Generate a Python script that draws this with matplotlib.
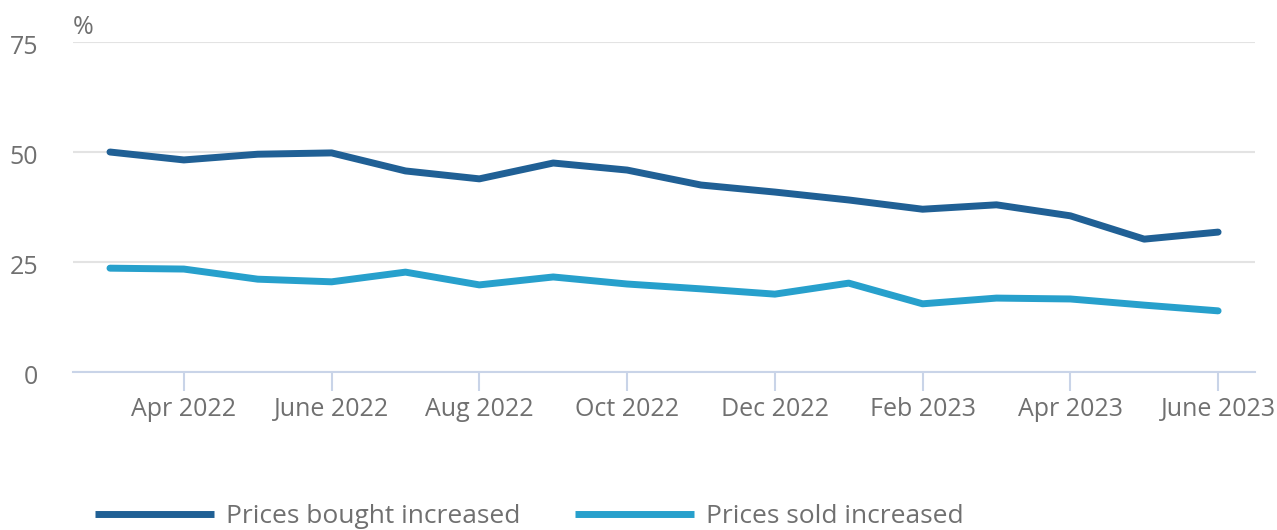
import matplotlib
matplotlib.use("Agg")
import matplotlib.pyplot as plt
from matplotlib.transforms import ScaledTranslation

plt.rcParams['font.family'] = ['Open Sans', 'DejaVu Sans']

# monthly survey, Mar 2022 - June 2023
months = ['Mar 2022', 'Apr 2022', 'May 2022', 'June 2022', 'Jul 2022', 'Aug 2022',
          'Sep 2022', 'Oct 2022', 'Nov 2022', 'Dec 2022', 'Jan 2023', 'Feb 2023',
          'Mar 2023', 'Apr 2023', 'May 2023', 'June 2023']
bought = [50.0, 48.2, 49.5, 49.8, 45.7, 43.9, 47.5, 45.9, 42.5, 40.9, 39.1, 37.0,
          38.0, 35.5, 30.2, 31.8]
sold = [23.6, 23.4, 21.1, 20.5, 22.7, 19.8, 21.6, 20.0, 18.9, 17.7, 20.2, 15.5,
        16.8, 16.6, 15.2, 13.9]
tick_labels = ['Apr 2022', 'June 2022', 'Aug 2022', 'Oct 2022', 'Dec 2022',
               'Feb 2023', 'Apr 2023', 'June 2023']
y_ticks = [0, 25, 50, 75]

dark = '#206095'
light = '#27a0cc'
txt = '#707070'

fig = plt.figure(figsize=(12.77, 5.30), dpi=100)
ax = fig.add_axes([0.0572, 0.2981, 0.9256, 0.6226])

x = list(range(len(months)))
ax.plot(x, bought, color=dark, lw=5, solid_capstyle='round', solid_joinstyle='round',
        label='Prices bought increased')
ax.plot(x, sold, color=light, lw=5, solid_capstyle='round', solid_joinstyle='round',
        label='Prices sold increased')

ax.set_xlim(-0.5, 15.5)
ax.set_ylim(0, 75)
ax.set_yticks(y_ticks)
ax.set_yticklabels([str(v) for v in y_ticks])
ax.set_xticks([months.index(t) for t in tick_labels])
ax.set_xticklabels(tick_labels)

ax.grid(axis='y', color='#e3e3e3', lw=1.5)
ax.set_axisbelow(True)
for s in ['top', 'right', 'left']:
    ax.spines[s].set_visible(False)
ax.spines['bottom'].set_color('#c9d4e8')
ax.spines['bottom'].set_linewidth(1.5)
ax.spines['bottom'].set_zorder(1)
ax.tick_params(axis='x', length=14, width=1.5, color='#c9d4e8', labelsize=18,
               labelcolor=txt, pad=4)
ax.tick_params(axis='y', length=0, labelsize=18, labelcolor=txt, pad=25)

# y labels sit a touch below their gridlines
shift = ScaledTranslation(0, -4 / 72, fig.dpi_scale_trans)
for lab in ax.get_yticklabels():
    lab.set_verticalalignment('center')
    lab.set_transform(lab.get_transform() + shift)

fig.text(0.057, 0.949, '%', fontsize=18, color=txt, ha='left', va='center')

leg = fig.legend(loc='center left', bbox_to_anchor=(0.064, 0.025), ncol=2, frameon=False,
                 fontsize=19, labelcolor=txt, handlelength=4.5, handletextpad=0.45,
                 columnspacing=2.1, borderpad=0)
for h in leg.get_lines():
    h.set_solid_capstyle('butt')

fig.savefig('out.png', dpi=100)
